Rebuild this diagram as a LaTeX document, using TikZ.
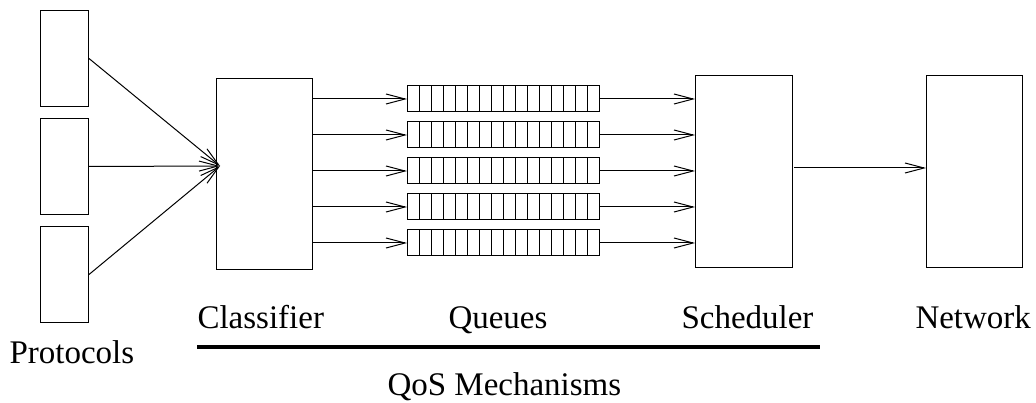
\documentclass[tikz,border=0pt]{standalone}
\usepackage{fontspec}
\setmainfont{Liberation Serif}
\usetikzlibrary{arrows.meta}
\begin{document}
\begin{tikzpicture}[x=1pt, y=-1pt,
  every path/.style={line width=1pt},
  blockbox/.style={draw, line width=1pt, rectangle, inner sep=0pt, anchor=north west,
    minimum width=#1, minimum height=192pt},
  blockbox/.default=96pt,
  protobox/.style={draw, line width=1pt, rectangle, inner sep=0pt, anchor=north west,
    minimum width=48pt, minimum height=96pt},
  queuebox/.style={draw, line width=1pt, rectangle, inner sep=0pt, anchor=west,
    minimum width=192pt, minimum height=26pt},
  flow/.style={line width=1pt, -{Straight Barb[length=19pt, width=10pt]}},
  caption/.style={inner sep=0pt, anchor=base west,
    font=\rmfamily\fontsize{33}{40}\selectfont},
]
\useasboundingbox (0,0) rectangle (1036,403);

% protocol stack
\node[protobox] (p1) at (40,10) {};
\node[protobox] (p2) at (40,118) {};
\node[protobox] (p3) at (40,226) {};

% classifier, scheduler and network blocks
\node[blockbox=96pt, minimum height=191pt] (cls) at (216,78) {};
\node[blockbox=97pt] (sch) at (695,75) {};
\node[blockbox=96pt] (net) at (926,75) {};

% all protocols feed one entry point of the classifier
\coordinate (cin) at (220,166);
\foreach \p in {p1,p2,p3}
  \draw[flow] (\p.east) -- (cin);

% five queues, each made of sixteen cells
\foreach \i/\y in {1/99, 2/135, 3/171, 4/207, 5/243} {
  \node[queuebox] (q\i) at (407,\y) {};
  \foreach \k in {1,...,15}
    \draw ([xshift=12*\k pt]q\i.north west) -- ([xshift=12*\k pt]q\i.south west);
  \draw[flow] (cls.east |- q\i.west) -- (q\i.west);
  \draw[flow] (q\i.east) -- (q\i.east -| sch.west);
}

% scheduler output to the network
\coordinate (sout) at (794,168);
\draw[flow] (sout) -- (sout -| net.west);

% captions
\node[caption] (lcls) at (197,328) {Classifier};
\node[caption] (lq) at (448,328) {Queues};
\node[caption] (lsch) at (681,328) {Scheduler};
\node[caption] (lnet) at (915,328) {Network};
\node[caption] (lpro) at (9,363) {Protocols};

% bar grouping the QoS mechanisms
\coordinate (barl) at (197,347);
\coordinate (barr) at (820,347);
\draw[line width=4pt] (barl) -- (barr);
\node[caption] (lqos) at (387,395) {QoS Mechanisms};
\end{tikzpicture}
\end{document}
